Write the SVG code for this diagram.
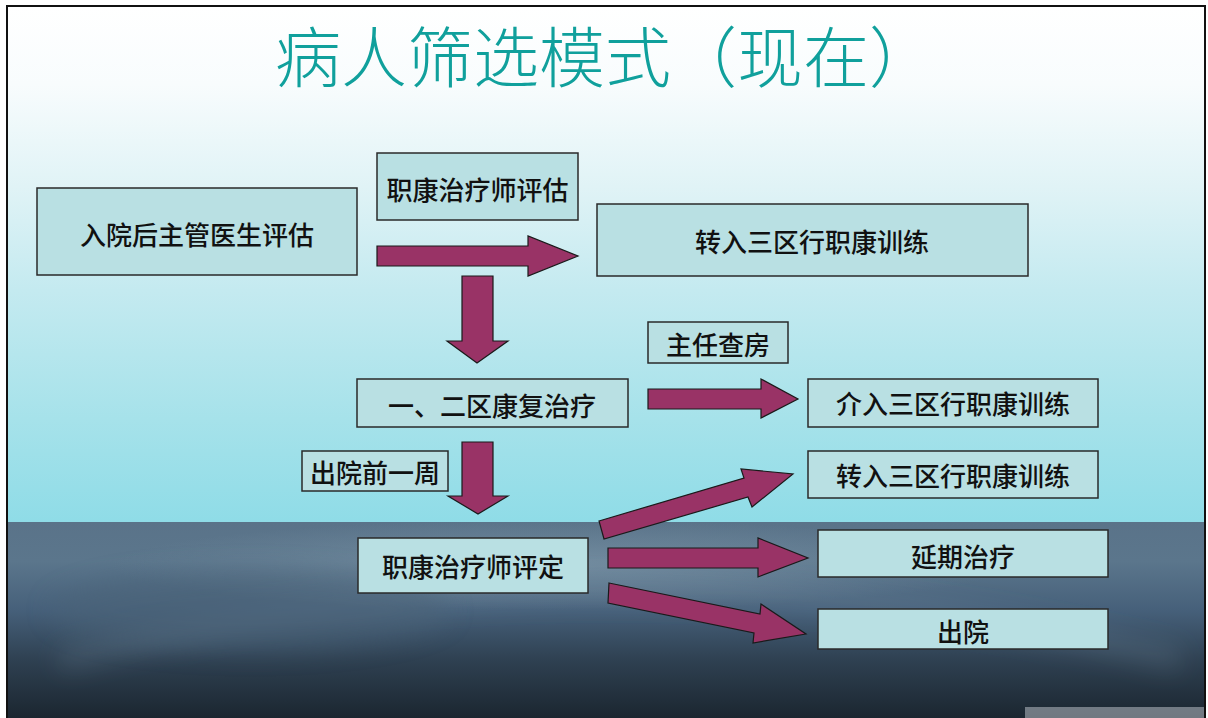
<svg xmlns="http://www.w3.org/2000/svg" width="1208" height="718" viewBox="0 0 1208 718">
<defs>
<linearGradient id="sky" x1="0" y1="7" x2="0" y2="522" gradientUnits="userSpaceOnUse">
<stop offset="0" stop-color="#ffffff"/>
<stop offset="0.15" stop-color="#f8fcfd"/>
<stop offset="0.35" stop-color="#e0f3f6"/>
<stop offset="0.55" stop-color="#c4eaf0"/>
<stop offset="0.8" stop-color="#a6e2ea"/>
<stop offset="1" stop-color="#8fdce7"/>
</linearGradient>
<linearGradient id="sea" x1="0" y1="522" x2="0" y2="718" gradientUnits="userSpaceOnUse">
<stop offset="0" stop-color="#5a7389"/>
<stop offset="0.2" stop-color="#5b768c"/>
<stop offset="0.45" stop-color="#46607a"/>
<stop offset="0.7" stop-color="#2f4152"/>
<stop offset="1" stop-color="#1b2630"/>
</linearGradient>
<radialGradient id="glow" cx="0.5" cy="0.5" r="0.5">
<stop offset="0" stop-color="#8aa2b3" stop-opacity="0.5"/>
<stop offset="1" stop-color="#8aa2b3" stop-opacity="0"/>
</radialGradient>
<filter id="blur" x="-20%" y="-50%" width="140%" height="200%"><feGaussianBlur stdDeviation="12"/></filter>
<clipPath id="seaclip"><rect x="8" y="522" width="1197" height="196"/></clipPath>
</defs>
<style>
.box{fill:#b9e0e3;stroke:#2a2a2a;stroke-width:1.5}
.lbl{font-family:"Noto Sans CJK SC","Noto Sans CJK TC",sans-serif;font-size:26px;font-weight:500;fill:#111;text-anchor:middle}
.arr{fill:#993366;stroke:#1a1a1a;stroke-width:1.2;stroke-linejoin:miter}
.title{font-family:"Noto Sans CJK SC",sans-serif;font-size:66px;font-weight:300;fill:#10a09c}
</style>
<rect width="1208" height="718" fill="#ffffff"/>
<rect x="8" y="7" width="1197" height="515" fill="url(#sky)"/>
<g clip-path="url(#seaclip)">
<rect x="8" y="522" width="1197" height="196" fill="url(#sea)"/>
<ellipse cx="560" cy="565" rx="450" ry="45" fill="url(#glow)"/>
<path d="M60 660 Q 600 520 1180 660" fill="none" stroke="#7890a2" stroke-width="22" stroke-opacity="0.25" filter="url(#blur)"/>
<ellipse cx="250" cy="610" rx="200" ry="40" fill="#4b6478" opacity="0.5" filter="url(#blur)"/>
</g>
<rect x="1025" y="707" width="180" height="11" fill="#b8bec4" opacity="0.55"/>
<rect x="7" y="6" width="1198" height="716" fill="none" stroke="#111" stroke-width="2"/>
<text class="title" x="275" y="82">病人筛选模式（现在）</text>

<g id="connectors">
<polygon class="arr" points="377,246 528,246 528,236 578,256 528,276 528,266 377,266"/>
<polygon class="arr" points="462,276 493,276 493,341 508,341 477,363 447,341 462,341"/>
<polygon class="arr" points="648,389 761,389 761,379 798,399 761,418 761,409 648,409"/>
<polygon class="arr" points="462,442 493,442 493,496 508,496 478,514 448,496 462,496"/>
<polygon class="arr" points="599,521 744,478 741,469 793,474 752,507 748,497 604,539"/>
<polygon class="arr" points="608,548 758,548 758,538 808,558 758,577 758,568 608,568"/>
<polygon class="arr" points="609,583 760,614 761,604 806,634 753,643 754,633 608,603"/>
</g>

<g id="n-admit"><rect class="box" x="37" y="188" width="320" height="87"/><text class="lbl" x="197" y="245">入院后主管医生评估</text></g>
<g id="n-ot-assess"><rect class="box" x="377" y="153" width="201" height="67"/><text class="lbl" x="477.5" y="200">职康治疗师评估</text></g>
<g id="n-transfer1"><rect class="box" x="597" y="204" width="431" height="72"/><text class="lbl" x="812" y="252">转入三区行职康训练</text></g>
<g id="n-rounds"><rect class="box" x="648" y="322" width="140" height="41"/><text class="lbl" x="718" y="355">主任查房</text></g>
<g id="n-ward12"><rect class="box" x="357" y="379" width="271" height="48"/><text class="lbl" x="492" y="416">一、二区康复治疗</text></g>
<g id="n-intervene"><rect class="box" x="808" y="379" width="290" height="48"/><text class="lbl" x="953" y="414">介入三区行职康训练</text></g>
<g id="n-week"><rect class="box" x="302" y="451" width="146" height="40"/><text class="lbl" x="375" y="483">出院前一周</text></g>
<g id="n-transfer2"><rect class="box" x="808" y="451" width="290" height="47"/><text class="lbl" x="953" y="486">转入三区行职康训练</text></g>
<g id="n-ot-decide"><rect class="box" x="358" y="538" width="230" height="55"/><text class="lbl" x="473" y="577">职康治疗师评定</text></g>
<g id="n-extend"><rect class="box" x="818" y="530" width="290" height="47"/><text class="lbl" x="963" y="567">延期治疗</text></g>
<g id="n-discharge"><rect class="box" x="818" y="609" width="290" height="40"/><text class="lbl" x="963" y="642">出院</text></g>
</svg>
